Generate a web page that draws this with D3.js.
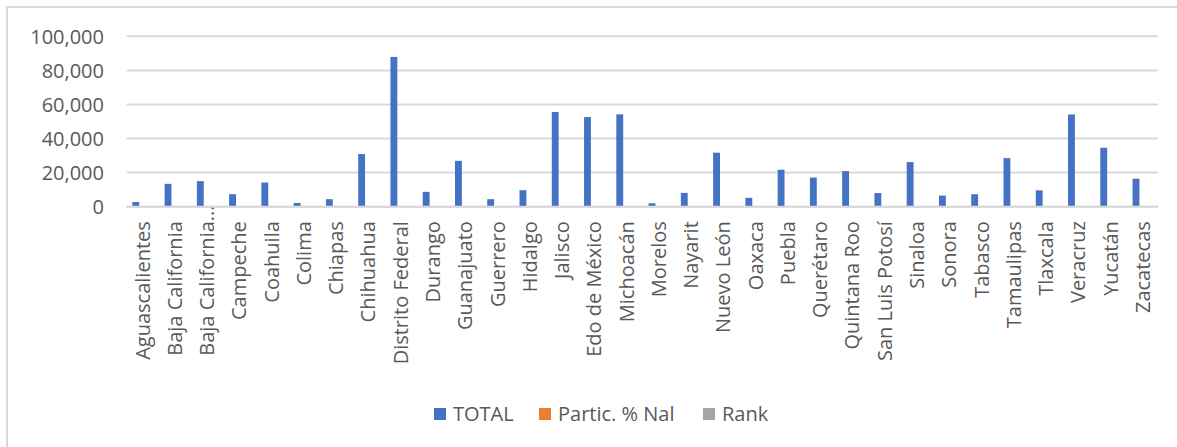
<!DOCTYPE html>
<html>
<head>
<meta charset="utf-8">
<script src="https://cdn.jsdelivr.net/npm/d3@7"></script>
<style>
  html, body { margin: 0; padding: 0; background: #fff; }
  svg { display: block; }
  text { font-family: "Open Sans", "DejaVu Sans", sans-serif; fill: #595959; }
</style>
</head>
<body>
<svg id="chart" width="1177" height="447"></svg>
<script>
// Estados de la República
const states = [
  "Aguascalientes", "Baja California", "Baja California...", "Campeche", "Coahuila",
  "Colima", "Chiapas", "Chihuahua", "Distrito Federal", "Durango", "Guanajuato",
  "Guerrero", "Hidalgo", "Jalisco", "Edo de México", "Michoacán", "Morelos",
  "Nayarit", "Nuevo León", "Oaxaca", "Puebla", "Querétaro", "Quintana Roo",
  "San Luis Potosí", "Sinaloa", "Sonora", "Tabasco", "Tamaulipas", "Tlaxcala",
  "Veracruz", "Yucatán", "Zacatecas"
];

// TOTAL por estado
const total = [
  2800, 13400, 15000, 7350, 14200, 2200, 4400, 30900, 87900, 8700, 26900,
  4400, 9700, 55600, 52600, 54200, 2000, 8100, 31700, 5200, 21700, 17100,
  20900, 8000, 26200, 6500, 7300, 28500, 9600, 54100, 34600, 16400
];

// Participación porcentual nacional
const particNal = [
  0.4, 1.9, 2.2, 1.1, 2.1, 0.3, 0.6, 4.5, 12.8, 1.3, 3.9,
  0.6, 1.4, 8.1, 7.6, 7.9, 0.3, 1.2, 4.6, 0.8, 3.2, 2.5,
  3.0, 1.2, 3.8, 0.9, 1.1, 4.1, 1.4, 7.9, 5.0, 2.4
];

// Posición nacional
const rank = [
  30, 18, 16, 24, 17, 31, 28, 8, 1, 21, 10,
  29, 19, 2, 5, 3, 32, 22, 7, 27, 12, 14,
  13, 23, 11, 26, 25, 9, 20, 4, 6, 15
];

const seriesNames = ["TOTAL", "Partic. % Nal", "Rank"];
const seriesColors = ["#4472C4", "#ED7D31", "#A5A5A5"];
const yTicks = [0, 20000, 40000, 60000, 80000, 100000];

const seriesValues = [total, particNal, rank];

const svg = d3.select("#chart");

// Chart frame (top and left edges)
svg.append("path")
  .attr("d", "M7,1177 L7,7 L1177,7")
  .attr("fill", "none")
  .attr("stroke", "#D9D9D9")
  .attr("stroke-width", 2);

const plot = { left: 126.5, right: 1159, top: 36.3, bottom: 206.7 };

const x0 = d3.scaleBand()
  .domain(states)
  .range([plot.left, plot.right])
  .paddingInner(0)
  .paddingOuter(0);

const x1 = d3.scaleBand()
  .domain(seriesNames)
  .range([0, x0.bandwidth()])
  .paddingInner(0)
  .paddingOuter(0.85);

const y = d3.scaleLinear()
  .domain([0, 100000])
  .range([plot.bottom, plot.top]);

// Horizontal gridlines
svg.append("g")
  .selectAll("line")
  .data(yTicks)
  .join("line")
  .attr("x1", plot.left)
  .attr("x2", 1158)
  .attr("y1", d => y(d))
  .attr("y2", d => y(d))
  .attr("stroke", "#D9D9D9")
  .attr("stroke-width", 2);

// Y axis labels
const yAxis = d3.axisLeft(y)
  .tickValues(yTicks)
  .tickFormat(d3.format(","))
  .tickSize(0)
  .tickPadding(0);

svg.append("g")
  .attr("transform", `translate(104,0)`)
  .call(yAxis)
  .call(g => g.select(".domain").remove())
  .call(g => g.selectAll("text")
    .attr("font-family", "Open Sans, sans-serif")
    .attr("font-size", 20)
    .attr("fill", "#595959")
    .attr("dy", "0.34em"));

// Bars
const rows = states.map((s, i) => ({
  state: s,
  values: seriesNames.map((n, k) => ({ name: n, value: seriesValues[k][i], color: seriesColors[k] }))
}));

svg.append("g")
  .selectAll("g")
  .data(rows)
  .join("g")
  .attr("transform", d => `translate(${x0(d.state)},0)`)
  .selectAll("rect")
  .data(d => d.values)
  .join("rect")
  .attr("x", d => x1(d.name))
  .attr("width", x1.bandwidth())
  .attr("y", d => y(d.value))
  .attr("height", d => y(0) - y(d.value))
  .attr("fill", d => d.color);

// X axis
const xAxis = d3.axisBottom(x0).tickSize(0).tickPadding(0);
const gx = svg.append("g")
  .attr("transform", `translate(0,${plot.bottom})`)
  .call(xAxis);
gx.select(".domain").remove();

gx.selectAll(".tick text")
  .attr("font-family", "Open Sans, sans-serif")
  .attr("font-size", 20)
  .attr("fill", "#595959")
  .attr("text-anchor", "end")
  .attr("transform", "rotate(-90)")
  .attr("y", 0)
  .attr("x", -14.5)
  .attr("dy", "0.35em")
  .each(function(d) {
    // truncated labels: the ellipsis sits above the common label edge
    if (d.endsWith("...")) {
      const t = d3.select(this);
      const full = this.getComputedTextLength();
      t.text(d.slice(0, -3));
      const part = this.getComputedTextLength();
      t.text(d);
      t.attr("x", -14.5 + (full - part));
    }
  });

// Baseline
svg.append("line")
  .attr("x1", plot.left)
  .attr("x2", 1158)
  .attr("y1", y(0))
  .attr("y2", y(0))
  .attr("stroke", "#D9D9D9")
  .attr("stroke-width", 2);

// Legend
const legendX = [434, 539, 703];
const legend = svg.append("g");
seriesNames.forEach((n, k) => {
  legend.append("rect")
    .attr("x", legendX[k])
    .attr("y", 408)
    .attr("width", 12)
    .attr("height", 12)
    .attr("fill", seriesColors[k]);
  legend.append("text")
    .attr("x", legendX[k] + 19)
    .attr("y", 414)
    .attr("dy", "0.35em")
    .attr("font-size", 20)
    .text(n);
});
</script>
</body>
</html>
